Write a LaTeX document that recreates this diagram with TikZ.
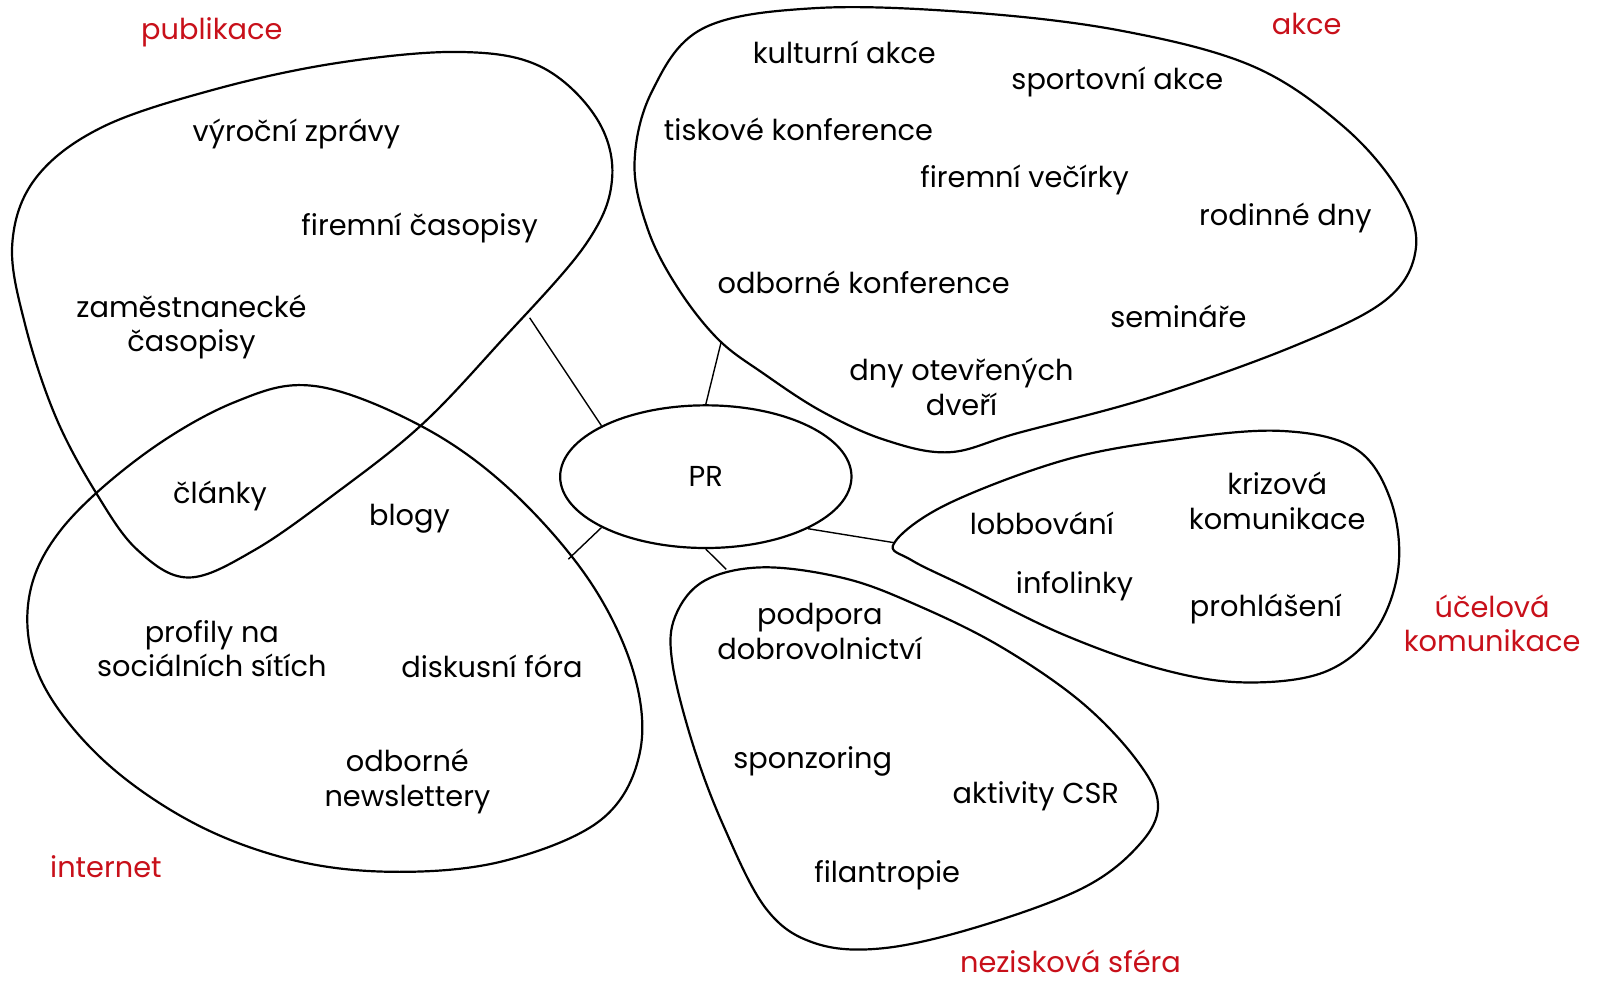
\documentclass[tikz,border=0pt]{standalone}
\usepackage{fontspec}
\setmainfont{Poppins}
\usetikzlibrary{shapes.geometric}
\definecolor{catred}{RGB}{200,16,26}

\begin{document}
\begin{tikzpicture}[x=0.509pt, y=-0.509pt, font=\fontsize{14.4}{17.3}\selectfont,
  blob/.style={line width=1.1pt},
  link/.style={line width=0.7pt},
  item/.style={align=center, inner sep=1pt},
  cat/.style={text=catred, align=center, inner sep=1pt}]
\useasboundingbox (0,0) rectangle (1568,963);

% group outlines
\draw[blob] plot[smooth cycle, tension=0.6] coordinates {(12,240) (35,175) (100,125) (210,88) (330,62) (450,51) (530,65) (585,115) (601,175) (575,240) (490,337) (413,418) (330,484) (250,540) (185,567) (135,540) (95,485) (55,410) (25,320)};
\draw[blob] plot[smooth cycle, tension=0.6] coordinates {(309,379) (413,418) (500,480) (578,569) (622,660) (628,740) (590,805) (496,845) (392,856) (290,845) (190,808) (100,745) (40,667) (28,590) (60,520) (140,447) (230,395)};
\draw[blob] plot[smooth cycle, tension=0.6] coordinates {(623,160) (640,90) (690,28) (800,8) (950,12) (1100,30) (1230,65) (1320,125) (1375,190) (1390,245) (1360,295) (1270,340) (1130,390) (1000,425) (932,444) (869,432) (807,404) (750,367) (705,333) (665,282) (636,225)};
\draw[blob] plot[smooth cycle, tension=0.6] coordinates {(878,533) (930,495) (1044,452) (1150,432) (1256,423) (1330,440) (1365,490) (1373,557) (1350,620) (1300,660) (1221,670) (1140,657) (1044,623) (950,577) (895,550)};
\draw[blob] plot[smooth cycle, tension=0.6] coordinates {(750,557) (830,568) (900,594) (981,634) (1060,688) (1115,745) (1137,790) (1118,830) (1063,872) (960,910) (867,931) (800,926) (752,892) (710,810) (680,730) (660,650) (663,605) (692,570)};

% centre
\node[draw, ellipse, line width=1.1pt, minimum width=145.6pt, minimum height=71.3pt, inner sep=0pt] (pr) at (693,468) {PR};

\coordinate (pubEnd) at (520,312);
\coordinate (intEnd) at (558,549);
\coordinate (akceEnd) at (708,336);
\coordinate (ucelEnd) at (879,533);
\coordinate (nezEnd) at (713,559);
\draw[link] (pr.154.6) -- (pubEnd);
\draw[link] (pr.206.3) -- (intEnd);
\draw[link] (pr.north) -- (akceEnd);
\draw[link] (pr.333.9) -- (ucelEnd);
\draw[link] (pr.south) -- (nezEnd);

% publikace
\node[cat] (publikace) at (208,32) {publikace};
\node[item] (vyrocni) at (291,132) {výroční zprávy};
\node[item] (firemniCas) at (412,224) {firemní časopisy};
\node[item] (zamest) at (188,321) {zaměstnanecké\\časopisy};
\node[item] (clanky) at (216,487) {články};

% internet
\node[cat] (internet) at (104,851) {internet};
\node[item] (blogy) at (402,509) {blogy};
\node[item] (profily) at (208,637) {profily na\\sociálních sítích};
\node[item] (fora) at (483,654) {diskusní fóra};
\node[item] (newsl) at (400,767) {odborné\\newslettery};

% akce
\node[cat] (akce) at (1283,24) {akce};
\node[item] (kult) at (829,51) {kulturní akce};
\node[item] (sport) at (1097,80) {sportovní akce};
\node[item] (tisk) at (784,127) {tiskové konference};
\node[item] (vecirky) at (1006,177) {firemní večírky};
\node[item] (rodin) at (1262,214) {rodinné dny};
\node[item] (odbKonf) at (848,277) {odborné konference};
\node[item] (seminare) at (1157,311) {semináře};
\node[item] (dny) at (944,380) {dny otevřených\\dveří};

% ucelova komunikace
\node[cat] (ucelova) at (1465,612) {účelová\\komunikace};
\node[item] (lobby) at (1023,514) {lobbování};
\node[item] (krize) at (1254,492) {krizová\\komunikace};
\node[item] (info) at (1055,576) {infolinky};
\node[item] (prohl) at (1243,598) {prohlášení};

% neziskova sfera
\node[cat] (nezisk) at (1051,944) {nezisková sféra};
\node[item] (podpora) at (805,620) {podpora\\dobrovolnictví};
\node[item] (sponz) at (798,748) {sponzoring};
\node[item] (csr) at (1017,782) {aktivity CSR};
\node[item] (filan) at (871,859) {filantropie};
\end{tikzpicture}
\end{document}
